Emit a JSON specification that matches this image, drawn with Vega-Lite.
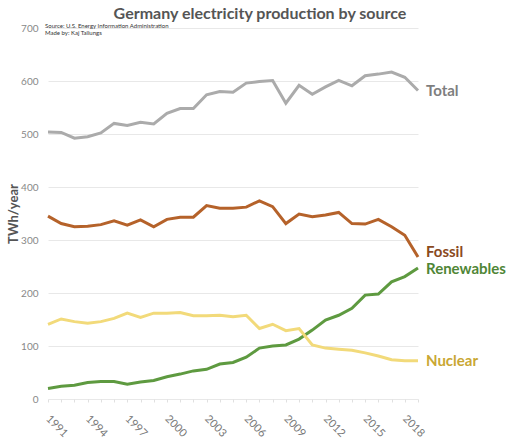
{
  "$schema": "https://vega.github.io/schema/vega-lite/v6.json",
  "width": 370,
  "height": 371,
  "autosize": {"type": "none"},
  "padding": {"left": 48, "top": 28, "right": 102, "bottom": 42},
  "background": "white",
  "config": {"font": "Lato", "view": {"stroke": null}},
  "title": {"text": "Germany electricity production by source", "fontSize": 16, "fontWeight": "bold", "color": "#555555", "anchor": "middle", "dx": 27, "offset": 1, "font": "Lato"},
  "datasets": {
    "energy": [
      {"year": 1990, "Total": 504, "Fossil": 345, "Renewables": 20, "Nuclear": 141},
      {"year": 1991, "Total": 503, "Fossil": 331, "Renewables": 24, "Nuclear": 151},
      {"year": 1992, "Total": 492, "Fossil": 325, "Renewables": 26, "Nuclear": 146},
      {"year": 1993, "Total": 495, "Fossil": 326, "Renewables": 31, "Nuclear": 143},
      {"year": 1994, "Total": 502, "Fossil": 329, "Renewables": 33, "Nuclear": 146},
      {"year": 1995, "Total": 520, "Fossil": 336, "Renewables": 33, "Nuclear": 152},
      {"year": 1996, "Total": 516, "Fossil": 328, "Renewables": 28, "Nuclear": 162},
      {"year": 1997, "Total": 522, "Fossil": 338, "Renewables": 32, "Nuclear": 154},
      {"year": 1998, "Total": 519, "Fossil": 325, "Renewables": 35, "Nuclear": 162},
      {"year": 1999, "Total": 539, "Fossil": 339, "Renewables": 42, "Nuclear": 162},
      {"year": 2000, "Total": 548, "Fossil": 343, "Renewables": 47, "Nuclear": 163},
      {"year": 2001, "Total": 548, "Fossil": 343, "Renewables": 53, "Nuclear": 157},
      {"year": 2002, "Total": 574, "Fossil": 365, "Renewables": 56, "Nuclear": 157},
      {"year": 2003, "Total": 580, "Fossil": 360, "Renewables": 66, "Nuclear": 158},
      {"year": 2004, "Total": 579, "Fossil": 360, "Renewables": 69, "Nuclear": 155},
      {"year": 2005, "Total": 596, "Fossil": 362, "Renewables": 79, "Nuclear": 158},
      {"year": 2006, "Total": 599, "Fossil": 374, "Renewables": 96, "Nuclear": 133},
      {"year": 2007, "Total": 601, "Fossil": 363, "Renewables": 100, "Nuclear": 141},
      {"year": 2008, "Total": 558, "Fossil": 331, "Renewables": 102, "Nuclear": 129},
      {"year": 2009, "Total": 592, "Fossil": 349, "Renewables": 113, "Nuclear": 133},
      {"year": 2010, "Total": 575, "Fossil": 344, "Renewables": 130, "Nuclear": 102},
      {"year": 2011, "Total": 589, "Fossil": 347, "Renewables": 149, "Nuclear": 96},
      {"year": 2012, "Total": 601, "Fossil": 352, "Renewables": 158, "Nuclear": 94},
      {"year": 2013, "Total": 591, "Fossil": 331, "Renewables": 171, "Nuclear": 92},
      {"year": 2014, "Total": 610, "Fossil": 330, "Renewables": 196, "Nuclear": 87},
      {"year": 2015, "Total": 613, "Fossil": 339, "Renewables": 198, "Nuclear": 81},
      {"year": 2016, "Total": 617, "Fossil": 325, "Renewables": 221, "Nuclear": 74},
      {"year": 2017, "Total": 607, "Fossil": 309, "Renewables": 231, "Nuclear": 72},
      {"year": 2018, "Total": 582, "Fossil": 268, "Renewables": 247, "Nuclear": 72}
    ]
  },
  "layer": [
    {
      "data": {"name": "energy"},
      "transform": [{"fold": ["Total", "Fossil", "Renewables", "Nuclear"], "as": ["source", "value"]}],
      "mark": {"type": "line", "strokeWidth": 3},
      "encoding": {
        "x": {"field": "year", "type": "quantitative", "scale": {"domain": [1990, 2018], "nice": false, "zero": false},
          "axis": {"title": null, "grid": false, "domain": false, "values": [1990,1991,1992,1993,1994,1995,1996,1997,1998,1999,2000,2001,2002,2003,2004,2005,2006,2007,2008,2009,2010,2011,2012,2013,2014,2015,2016,2017,2018], "format": "d", "labelExpr": "(datum.value - 1991) % 3 == 0 ? datum.label : ''", "labelAngle": 45, "labelAlign": "center", "labelBaseline": "middle", "labelPadding": 24, "labelOffset": -5, "labelFontSize": 11, "labelColor": "#777777", "ticks": true, "tickSize": 3, "tickColor": "#e0e0e0", "labelOverlap": false, "labelFont": "Lato"}},
        "y": {"field": "value", "type": "quantitative", "scale": {"domain": [0, 700], "nice": false},
          "axis": {"title": "TWh/year", "titleFontSize": 13, "titleFontWeight": "bold", "titleColor": "#555555", "titlePadding": 0, "titleFont": "Lato", "values": [0, 100, 200, 300, 400, 500, 600, 700], "grid": true, "gridColor": "#e8e8e8", "domain": false, "ticks": false, "labelPadding": 10, "labelFontSize": 10, "labelColor": "#888888", "labelFont": "Lato"}},
        "color": {"field": "source", "type": "nominal", "legend": null,
          "scale": {"domain": ["Total", "Fossil", "Renewables", "Nuclear"], "range": ["#ababab", "#b5622a", "#5e9a40", "#f2da7a"]}}
      }
    },
    {
      "data": {"name": "energy"},
      "transform": [{"fold": ["Total", "Nuclear"], "as": ["source", "value"]}, {"filter": "datum.year == 2018"}],
      "mark": {"type": "text", "align": "left", "baseline": "middle", "dx": 8, "fontSize": 15, "fontWeight": "bold", "font": "Lato"},
      "encoding": {
        "x": {"field": "year", "type": "quantitative", "scale": {"domain": [1990, 2018], "nice": false, "zero": false},
          "axis": {"title": null, "grid": false, "domain": false, "values": [1990,1991,1992,1993,1994,1995,1996,1997,1998,1999,2000,2001,2002,2003,2004,2005,2006,2007,2008,2009,2010,2011,2012,2013,2014,2015,2016,2017,2018], "format": "d", "labelExpr": "(datum.value - 1991) % 3 == 0 ? datum.label : ''", "labelAngle": 45, "labelAlign": "center", "labelBaseline": "middle", "labelPadding": 24, "labelOffset": -5, "labelFontSize": 11, "labelColor": "#777777", "ticks": true, "tickSize": 3, "tickColor": "#e0e0e0", "labelOverlap": false, "labelFont": "Lato"}},
        "y": {"field": "value", "type": "quantitative", "scale": {"domain": [0, 700], "nice": false},
          "axis": {"title": "TWh/year", "titleFontSize": 13, "titleFontWeight": "bold", "titleColor": "#555555", "titlePadding": 0, "titleFont": "Lato", "values": [0, 100, 200, 300, 400, 500, 600, 700], "grid": true, "gridColor": "#e8e8e8", "domain": false, "ticks": false, "labelPadding": 10, "labelFontSize": 10, "labelColor": "#888888", "labelFont": "Lato"}},
        "text": {"field": "source"},
        "color": {"field": "source", "type": "nominal", "legend": null,
          "scale": {"domain": ["Total", "Nuclear"], "range": ["#7e7e7e", "#c9a733"]}}
      }
    },
    {
      "data": {"name": "energy"},
      "transform": [{"fold": ["Renewables"], "as": ["source", "value"]}, {"filter": "datum.year == 2018"}],
      "mark": {"type": "text", "align": "left", "baseline": "middle", "dx": 8, "dy": 1, "fontSize": 15, "fontWeight": "bold", "font": "Lato", "color": "#4f8636"},
      "encoding": {
        "x": {"field": "year", "type": "quantitative", "scale": {"domain": [1990, 2018], "nice": false, "zero": false},
          "axis": {"title": null, "grid": false, "domain": false, "values": [1990,1991,1992,1993,1994,1995,1996,1997,1998,1999,2000,2001,2002,2003,2004,2005,2006,2007,2008,2009,2010,2011,2012,2013,2014,2015,2016,2017,2018], "format": "d", "labelExpr": "(datum.value - 1991) % 3 == 0 ? datum.label : ''", "labelAngle": 45, "labelAlign": "center", "labelBaseline": "middle", "labelPadding": 24, "labelOffset": -5, "labelFontSize": 11, "labelColor": "#777777", "ticks": true, "tickSize": 3, "tickColor": "#e0e0e0", "labelOverlap": false, "labelFont": "Lato"}},
        "y": {"field": "value", "type": "quantitative", "scale": {"domain": [0, 700], "nice": false},
          "axis": {"title": "TWh/year", "titleFontSize": 13, "titleFontWeight": "bold", "titleColor": "#555555", "titlePadding": 0, "titleFont": "Lato", "values": [0, 100, 200, 300, 400, 500, 600, 700], "grid": true, "gridColor": "#e8e8e8", "domain": false, "ticks": false, "labelPadding": 10, "labelFontSize": 10, "labelColor": "#888888", "labelFont": "Lato"}},
        "text": {"field": "source"}
      }
    },
    {
      "data": {"name": "energy"},
      "transform": [{"fold": ["Fossil"], "as": ["source", "value"]}, {"filter": "datum.year == 2018"}],
      "mark": {"type": "text", "align": "left", "baseline": "middle", "dx": 8, "dy": -5, "fontSize": 15, "fontWeight": "bold", "font": "Lato", "color": "#8a4a1e"},
      "encoding": {
        "x": {"field": "year", "type": "quantitative", "scale": {"domain": [1990, 2018], "nice": false, "zero": false},
          "axis": {"title": null, "grid": false, "domain": false, "values": [1990,1991,1992,1993,1994,1995,1996,1997,1998,1999,2000,2001,2002,2003,2004,2005,2006,2007,2008,2009,2010,2011,2012,2013,2014,2015,2016,2017,2018], "format": "d", "labelExpr": "(datum.value - 1991) % 3 == 0 ? datum.label : ''", "labelAngle": 45, "labelAlign": "center", "labelBaseline": "middle", "labelPadding": 24, "labelOffset": -5, "labelFontSize": 11, "labelColor": "#777777", "ticks": true, "tickSize": 3, "tickColor": "#e0e0e0", "labelOverlap": false, "labelFont": "Lato"}},
        "y": {"field": "value", "type": "quantitative", "scale": {"domain": [0, 700], "nice": false},
          "axis": {"title": "TWh/year", "titleFontSize": 13, "titleFontWeight": "bold", "titleColor": "#555555", "titlePadding": 0, "titleFont": "Lato", "values": [0, 100, 200, 300, 400, 500, 600, 700], "grid": true, "gridColor": "#e8e8e8", "domain": false, "ticks": false, "labelPadding": 10, "labelFontSize": 10, "labelColor": "#888888", "labelFont": "Lato"}},
        "text": {"field": "source"}
      }
    },
    {
      "data": {"values": [{"line": "Source: U.S. Energy Information Administration"}]},
      "mark": {"type": "text", "align": "left", "baseline": "top", "fontSize": 6, "color": "#333333", "dx": -3, "font": "Lato"},
      "encoding": {
        "x": {"datum": 1990, "type": "quantitative", "scale": {"domain": [1990, 2018], "nice": false, "zero": false},
          "axis": {"title": null, "grid": false, "domain": false, "values": [1990,1991,1992,1993,1994,1995,1996,1997,1998,1999,2000,2001,2002,2003,2004,2005,2006,2007,2008,2009,2010,2011,2012,2013,2014,2015,2016,2017,2018], "format": "d", "labelExpr": "(datum.value - 1991) % 3 == 0 ? datum.label : ''", "labelAngle": 45, "labelAlign": "center", "labelBaseline": "middle", "labelPadding": 24, "labelOffset": -5, "labelFontSize": 11, "labelColor": "#777777", "ticks": true, "tickSize": 3, "tickColor": "#e0e0e0", "labelOverlap": false, "labelFont": "Lato"}},
        "y": {"datum": 709, "type": "quantitative", "scale": {"domain": [0, 700], "nice": false},
          "axis": {"title": "TWh/year", "titleFontSize": 13, "titleFontWeight": "bold", "titleColor": "#555555", "titlePadding": 0, "titleFont": "Lato", "values": [0, 100, 200, 300, 400, 500, 600, 700], "grid": true, "gridColor": "#e8e8e8", "domain": false, "ticks": false, "labelPadding": 10, "labelFontSize": 10, "labelColor": "#888888", "labelFont": "Lato"}},
        "text": {"field": "line"}
      }
    },
    {
      "data": {"values": [{"line": "Made by: Kaj Tallungs"}]},
      "mark": {"type": "text", "align": "left", "baseline": "top", "fontSize": 6, "color": "#333333", "dx": -3, "font": "Lato"},
      "encoding": {
        "x": {"datum": 1990, "type": "quantitative", "scale": {"domain": [1990, 2018], "nice": false, "zero": false},
          "axis": {"title": null, "grid": false, "domain": false, "values": [1990,1991,1992,1993,1994,1995,1996,1997,1998,1999,2000,2001,2002,2003,2004,2005,2006,2007,2008,2009,2010,2011,2012,2013,2014,2015,2016,2017,2018], "format": "d", "labelExpr": "(datum.value - 1991) % 3 == 0 ? datum.label : ''", "labelAngle": 45, "labelAlign": "center", "labelBaseline": "middle", "labelPadding": 24, "labelOffset": -5, "labelFontSize": 11, "labelColor": "#777777", "ticks": true, "tickSize": 3, "tickColor": "#e0e0e0", "labelOverlap": false, "labelFont": "Lato"}},
        "y": {"datum": 696, "type": "quantitative", "scale": {"domain": [0, 700], "nice": false},
          "axis": {"title": "TWh/year", "titleFontSize": 13, "titleFontWeight": "bold", "titleColor": "#555555", "titlePadding": 0, "titleFont": "Lato", "values": [0, 100, 200, 300, 400, 500, 600, 700], "grid": true, "gridColor": "#e8e8e8", "domain": false, "ticks": false, "labelPadding": 10, "labelFontSize": 10, "labelColor": "#888888", "labelFont": "Lato"}},
        "text": {"field": "line"}
      }
    }
  ],
  "resolve": {"scale": {"color": "independent"}}
}
